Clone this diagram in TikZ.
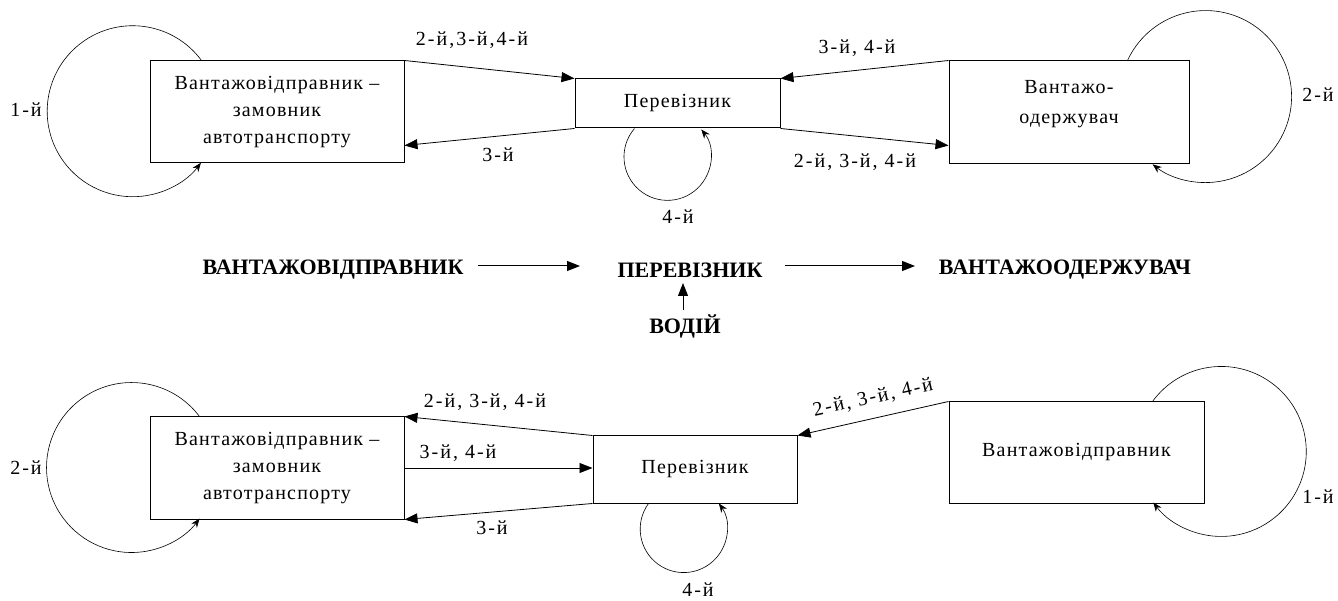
\documentclass[tikz,border=0pt]{standalone}
\usepackage{fontspec}
\setmainfont{Liberation Serif}
\usetikzlibrary{arrows.meta,calc}
\begin{document}
\begin{tikzpicture}[x=1pt,y=1pt,
 box/.style={draw,line width=1pt,inner sep=0pt,align=center,font=\fontsize{20}{27}\selectfont\addfontfeatures{LetterSpace=6}},
 lab/.style={font=\fontsize{20}{22}\selectfont\addfontfeatures{LetterSpace=10},inner sep=0pt},
 big/.style={font=\fontsize{22}{24}\selectfont\bfseries,inner sep=0pt},
 conn/.style={line width=0.8pt,-{Triangle[length=13pt,width=10pt]}},
 marrow/.style={line width=1pt,-{Triangle[length=13pt,width=10pt]}},
 loopc/.style={line width=0.6pt,-{Stealth[length=9pt,width=7pt]}}
]
\useasboundingbox (0,0) rectangle (1338,600);

% ---------- top diagram ----------
\node[box,minimum width=254pt,minimum height=102pt] (A1) at (277,488) {Вантажовідправник –\\замовник\\автотранспорту};
\node[box,minimum width=205pt,minimum height=49pt] (P1) at (677.5,496.5) {Перевізник};
\node[box,minimum width=240pt,minimum height=103pt,font=\fontsize{20}{30}\selectfont\addfontfeatures{LetterSpace=6}] (C1) at (1069,487.5) {Вантажо-\\одержувач\\[-9pt]\mbox{}};

\draw[conn] (A1.north east) -- (P1.north west);
\draw[conn] (P1.south west) -- ($(A1.south east)+(0,18)$);
\draw[conn] (C1.north west) -- (P1.north east);
\draw[conn] (P1.south east) -- ($(C1.south west)+(0,19)$);

\draw[loopc] ($(A1.north west)+(52,0)$) arc[start angle=36.4,end angle=322.9,radius=85.5pt];
\draw[loopc] ($(P1.south west)+(60,0)$) arc[start angle=139.3,end angle=399,radius=43.5pt];
\draw[loopc] ($(C1.north west)+(179,0)$) arc[start angle=155.2,end angle=-128,radius=86pt];

\node[lab] (l1) at (472,560) {2-й,3-й,4-й};
\node[lab] (l2) at (498,445) {3-й};
\node[lab] (l3) at (857,552) {3-й, 4-й};
\node[lab] (l4) at (855,438) {2-й, 3-й, 4-й};
\node[lab] (l5) at (678,383) {4-й};
\node[lab] (l6) at (26,490) {1-й};
\node[lab] (l7) at (1318,505) {2-й};

% ---------- middle ----------
\node[big] (V1) at (333,330) {ВАНТАЖОВІДПРАВНИК};
\node[big] (Pm) at (690,330) {ПЕРЕВІЗНИК};
\node[big] (Cm) at (1065,330) {ВАНТАЖООДЕРЖУВАЧ};
\node[big] (Dm) at (685,274) {ВОДІЙ};
\draw[marrow] ($(V1.center)+(145,4)$) -- ($(Pm.center)+(-110,4)$);
\draw[marrow] ($(Pm.center)+(95,4)$) -- ($(Cm.center)+(-150,4)$);
\draw[marrow] ($(Dm.center)+(-2,16)$) -- ($(Pm.center)+(-7,-13)$);

% ---------- bottom diagram ----------
\node[box,minimum width=254pt,minimum height=102pt] (A2) at (277,132) {Вантажовідправник –\\замовник\\автотранспорту};
\node[box,minimum width=204pt,minimum height=67pt] (P2) at (695,130.5) {Перевізник};
\node[box,minimum width=255pt,minimum height=101pt] (S2) at (1076.5,147.5) {Вантажовідправник};

\draw[conn] (P2.north west) -- (A2.north east);
\draw[conn] (A2.east) -- (A2.east -| P2.west);
\draw[conn] (P2.south west) -- (A2.south east);
\draw[conn] (S2.north west) -- (P2.north east);

\draw[loopc] ($(A2.north west)+(50,0)$) arc[start angle=36.9,end angle=323.1,radius=85pt];
\draw[loopc] ($(P2.south west)+(56,0)$) arc[start angle=144,end angle=396,radius=43.5pt];
\draw[loopc] ($(S2.north west)+(204,0)$) arc[start angle=144,end angle=-143.1,radius=85pt];

\node[lab] (m1) at (485,198) {2-й, 3-й, 4-й};
\node[lab] (m2) at (458,147) {3-й, 4-й};
\node[lab] (m3) at (492,72) {3-й};
\node[lab,rotate=12.6] (m4) at (873,202) {2-й, 3-й, 4-й};
\node[lab] (m5) at (698,10) {4-й};
\node[lab] (m6) at (26,132) {2-й};
\node[lab] (m7) at (1318,103) {1-й};
\end{tikzpicture}
\end{document}
